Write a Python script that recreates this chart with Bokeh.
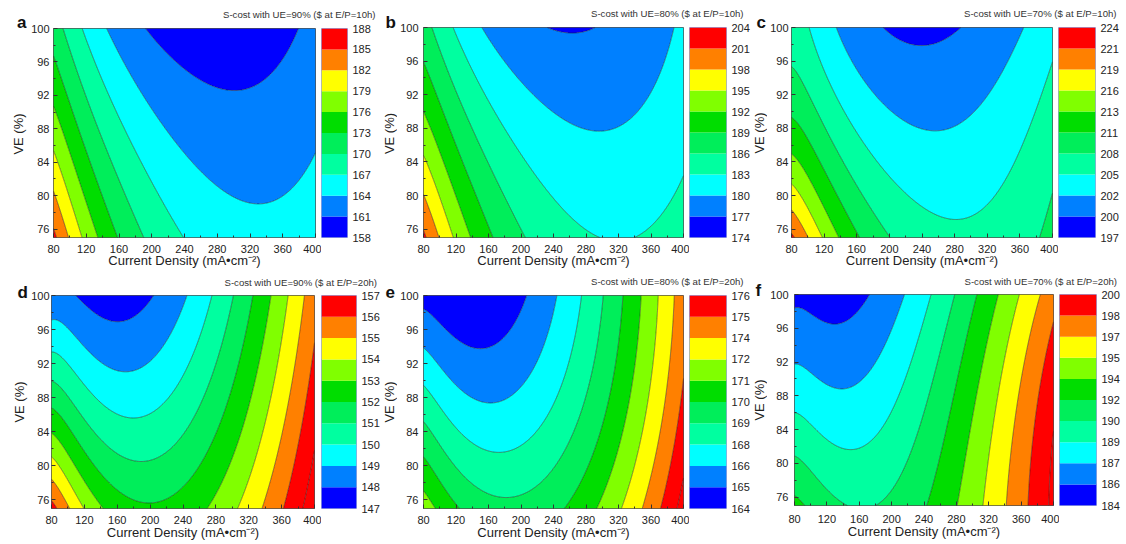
import math
import numpy as np
from bokeh.plotting import figure
from bokeh.models import Range1d, LinearAxis, FixedTicker
from bokeh.core.properties import value
from bokeh.layouts import row, column
from bokeh.embed import file_html
from bokeh.resources import INLINE

FONT = "Liberation Sans"

# Band colours of the cost scale, lowest band first
PALETTE = ["#0000FF", "#0080FF", "#00FFFF", "#00FFA0", "#00EE5A",
           "#00DD00", "#80FF00", "#FFFF00", "#FF8000", "#FF0000"]

# Axis ticks
CD_TICKS = [80, 120, 160, 200, 240, 280, 320, 360, 400]
CD_MINOR = [100, 140, 180, 220, 260, 300, 340, 380]
VE_TICKS = [76, 80, 84, 88, 92, 96, 100]
VE_MINOR = [78, 82, 86, 90, 94, 98]

PANEL_LETTERS = ["a", "b", "c", "d", "e", "f"]
UE_VALUES = ["90%", "80%", "70%", "90%", "80%", "70%"]
EP_VALUES = ["10h", "10h", "10h", "20h", "20h", "20h"]
X_TITLE = "Current Density (mA\u2022cm\u207b\u00b2)"
Y_TITLE = "VE (%)"

# Cost scale of each panel ($), and the labels printed on its colour bar
SCALE_LOW = [158, 174, 197, 147, 164, 184]
SCALE_HIGH = [188, 204, 224, 157, 176, 200]
SCALE_LABELS = [
    ["158", "161", "164", "167", "170", "173", "176", "179", "182", "185", "188"],
    ["174", "177", "180", "183", "186", "189", "192", "195", "198", "201", "204"],
    ["197", "200", "202", "205", "208", "211", "213", "216", "219", "221", "224"],
    ["147", "148", "149", "150", "151", "152", "153", "154", "155", "156", "157"],
    ["164", "165", "166", "168", "169", "170", "171", "172", "174", "175", "176"],
    ["184", "186", "187", "189", "190", "192", "194", "195", "197", "198", "200"],
]

# Points on the iso-cost lines: current density (mA cm-2), VE (%), S-cost ($)
CD_A = [196, 373, 291, 231, 349, 280, 302, 145, 316.6, 400, 227, 260, 114.6,
        235, 168, 91, 190.6, 137, 80, 158, 112, 80, 133.7, 80, 115.4, 80, 99,
        80, 82.8, 290, 316, 400, 80, 400]
VE_A = [100, 100, 92.0, 96, 96, 92.2, 92.2, 100, 78.9, 84.9, 87.5, 83.6, 100,
        75, 87.5, 100, 75, 87.5, 96.1, 75, 87.5, 90.9, 75, 85.3, 75, 80.8, 75,
        76.1, 75, 100, 75, 75, 100, 100]
COST_A = [161, 161, 161, 161, 161, 161, 161, 164, 164, 164, 164, 164, 167,
          167, 167, 170, 170, 170, 173, 173, 173, 176, 176, 179, 179, 182, 182,
          185, 185, 159.0, 165.0, 165.7, 171.8, 161.7]

CD_B = [233.5, 278, 256, 152.3, 387, 282, 268, 296, 192, 362, 246, 318, 116.5,
        306.6, 400, 213, 255.8, 89.3, 199, 140, 80, 164.5, 114, 80, 138, 80,
        117.8, 80, 99.5, 80, 83.2, 258, 400, 400, 80]
VE_B = [100, 100, 99.5, 100, 100, 86.6, 86.8, 86.8, 93.3, 93.3, 88, 88, 100,
        75.1, 83.1, 87.5, 79.6, 100, 75, 87.5, 95.9, 75, 87.5, 90.2, 75, 84.5,
        75, 80.2, 75, 75.8, 75, 100, 100, 75, 100]
COST_B = [177, 177, 177, 180, 180, 180, 180, 180, 180, 180, 180, 180, 183,
          183, 183, 183, 183, 186, 186, 186, 189, 189, 189, 192, 192, 195,
          195, 198, 198, 201, 201, 176.8, 180.5, 184.3, 187.3]

CD_C = [188.3, 281.6, 237, 133.5, 356.6, 259.3, 248, 270, 172, 330, 227, 296,
        103.1, 279.5, 400, 178, 216.7, 352, 80, 198.4, 400, 385, 136, 80, 166,
        80, 137.6, 80, 117.3, 80, 99, 80, 81.6, 237, 80, 400, 400]
VE_C = [100, 100, 97.6, 100, 100, 86.4, 86.6, 86.6, 93.3, 93.3, 87.8, 87.8,
        100, 77.4, 95.5, 87.4, 81.5, 87.4, 94.0, 75, 79.5, 75, 85, 89.3, 75,
        85.0, 75, 81.5, 75, 78.5, 75, 75.8, 75, 100, 100, 100, 75]
COST_C = [199.7, 199.7, 199.7, 202.4, 202.4, 202.4, 202.4, 202.4, 202.4, 202.4,
          202.4, 202.4, 205.1, 205.1, 205.1, 205.1, 205.1, 205.1, 207.8, 207.8,
          207.8, 207.8, 207.8, 210.5, 210.5, 213.2, 213.2, 215.9, 215.9, 218.6,
          218.6, 221.3, 221.3, 199.1, 206.8, 204.0, 208.6]

CD_D = [115.6, 200.5, 168.2, 80, 180.3, 240.2, 140, 227, 80, 178.3, 275.4, 125,
        257, 80, 202.6, 301.7, 285.5, 269.3, 140, 80, 202.6, 326, 296.5, 140,
        80, 147.2, 270, 347, 321.9, 80, 118.8, 309.8, 367.2, 344.2, 80, 101.4,
        338, 387.4, 365.6, 80, 83.2, 362.4, 400, 394.7, 384.6, 400,
        165, 80, 80, 400, 400]
VE_D = [100, 100, 97.66, 95.5, 91.6, 100, 92.8, 95.1, 92.6, 86.07, 100, 88.2,
        93.2, 89.66, 80.9, 100, 91.2, 88.9, 83.4, 87.5, 76.1, 100, 88, 78.5,
        84.0, 75, 75, 100, 88.9, 81.5, 75, 75, 100, 88.9, 79.1, 75,
        75, 100, 88.9, 76.0, 75, 75, 94.3, 88.9, 75, 79.5,
        100, 100, 75, 75, 100]
COST_D = [148, 148, 148, 149, 149, 149, 149, 149, 150, 150, 150, 150,
          150, 151, 151, 151, 151, 151, 151, 152, 152, 152, 152, 152,
          153, 153, 153, 153, 153, 154, 154, 154, 154, 154, 155, 155,
          155, 155, 155, 156, 156, 156, 156, 156, 157, 157,
          147.3, 148.6, 156.3, 157.8, 155.6]

CD_E = [80, 148.4, 115, 185, 201, 80, 159.8, 246.1, 221.7, 111.8, 80, 170.8,
        274.6, 245, 132, 80, 185, 301, 280, 132, 80, 120, 252.2, 325.5, 308,
        80, 95.5, 295, 348, 334, 323.5, 369, 358, 348, 388.6, 379, 372.3, 400,
        397, 393.5, 400, 145, 80, 80, 400, 400]
VE_E = [98.4, 93.5, 95.0, 96.0, 100, 93.5, 87.3, 100, 93.1, 90, 89.2, 81.6,
        100, 88, 83.8, 85.1, 76.3, 100, 88, 79.1, 81.4, 75, 75, 100, 88,
        77.9, 75, 75, 100, 88, 75, 100, 88, 75, 100, 88, 75, 91.6,
        88, 75, 78.7, 100, 100, 75, 75, 100]
COST_E = [165.2, 165.2, 165.2, 165.2, 165.2, 166.4, 166.4, 166.4, 166.4, 166.4,
          167.6, 167.6, 167.6, 167.6, 167.6, 168.8, 168.8, 168.8, 168.8, 168.8,
          170.0, 170.0, 170.0, 170.0, 170.0, 171.2, 171.2, 171.2, 171.2, 171.2,
          172.4, 172.4, 172.4, 173.6, 173.6, 173.6, 174.8, 174.8, 174.8,
          176.0, 176.0, 164.1, 164.9, 171.6, 176.6, 174.3]

CD_F = [80, 120.9, 167.9, 150, 80, 133.1, 214.9, 196.5, 80, 147.4, 249.6, 221,
        80, 163.8, 279, 243.5, 80, 90.2, 243.5, 306.8, 270, 282.3, 333.4, 298.6,
        315, 357.9, 329.3, 343.6, 379.5, 353.8, 370.2, 400, 380.4, 394.7, 400,
        121, 80, 80, 400, 400]
VE_F = [98.1, 96.4, 100, 98.3, 91.6, 88.6, 100, 93, 86.1, 81.5, 100, 91,
        81.05, 75.3, 100, 87.05, 76.6, 75, 75, 100, 87.05, 75, 100, 87.05,
        75, 100, 87.05, 75, 100, 87.05, 75, 95.7, 87.05, 75, 79.2,
        100, 100, 75, 75, 100]
COST_F = [185.6, 185.6, 185.6, 185.6, 187.2, 187.2, 187.2, 187.2, 188.8, 188.8,
          188.8, 188.8, 190.4, 190.4, 190.4, 190.4, 192.0, 192.0, 192.0, 192.0,
          192.0, 193.6, 193.6, 193.6, 195.2, 195.2, 195.2, 196.8, 196.8, 196.8,
          198.4, 198.4, 198.4, 200.0, 200.0, 184.9, 185.3, 192.3, 200.8, 197.8]

READINGS = [(CD_A, VE_A, COST_A), (CD_B, VE_B, COST_B), (CD_C, VE_C, COST_C),
            (CD_D, VE_D, COST_D), (CD_E, VE_E, COST_E), (CD_F, VE_F, COST_F)]

# Pixel geometry of each panel:
# width, height, plot left, plot right, plot top, plot bottom, bar left, bar right
GEOMETRY = [
    (380, 270, 53, 315, 28, 239, 321, 347),
    (372, 270, 41, 303, 27, 239, 309, 346),
    (374, 270, 37, 300, 27, 238, 306, 343),
    (382, 274, 51, 314, 25, 238, 321, 358),
    (370, 274, 39, 301, 25, 238, 307, 344),
    (374, 274, 40, 301, 24, 235, 307, 344),
]
# Text layout: side strip width, letter x, letter baseline, VE title centre x,
# header height, cost title right end, cost title anchor,
# VE tick standoff, x tick standoff, x title standoff
TEXT_POS = [
    (27, 16.5, 21.5, 18, 21, 375, 13.5, 4, 7, -3),
    (17, 5, 21.7, 8.5, 21, 363, 13, 5, 7, -3),
    (15, 4, 21.7, 7.3, 21, 364, 13, 3, 7, -3),
    (28, 17, 21.7, 19, 19, 376.5, 11.5, 2, 7, -2),
    (15, 3, 21.7, 7.3, 19, 361, 11, 5, 7, -2),
    (15, 3, 20, 7.3, 19, 364.5, 10.5, 6, 9, -2),
]


def basis(x, y):
    return np.stack([np.ones_like(x), 1 / x, 1 / x ** 2, x, x ** 2, x ** 3,
                     y, y ** 2, y / x, y * x, y * x ** 2, y ** 2 / x, y ** 2 * x],
                    axis=-1)


def fit_surface(cd, ve, cost):
    """Smooth cost surface through the iso-cost points (ridge least squares)."""
    x = np.asarray(cd, float) / 100.0
    y = (100.0 - np.asarray(ve, float)) / 25.0
    a = basis(x, y)
    scale = np.abs(a).max(axis=0)
    a = a / scale
    coef = np.linalg.solve(a.T @ a + 1e-4 * np.eye(a.shape[1]),
                           a.T @ np.asarray(cost, float))

    def surface(cd_grid, ve_grid):
        return (basis(cd_grid / 100.0, (100.0 - ve_grid) / 25.0) / scale) @ coef
    return surface


def style_axis(ax, standoff):
    ax.axis_line_color = None
    ax.major_tick_in = 4
    ax.major_tick_out = 0
    ax.minor_tick_in = 2
    ax.minor_tick_out = 0
    ax.major_tick_line_color = "#333333"
    ax.minor_tick_line_color = "#333333"
    ax.major_label_text_font = FONT
    ax.major_label_text_font_size = "11px"
    ax.major_label_text_color = "#222222"
    ax.major_label_standoff = standoff
    ax.axis_label_text_font = FONT
    ax.axis_label_text_font_size = "13px"
    ax.axis_label_text_font_style = "normal"
    ax.axis_label_text_color = "#222222"


def bare_figure(**kw):
    p = figure(output_backend="svg", toolbar_location=None, title=None,
               x_axis_type=None, y_axis_type=None, **kw)
    p.outline_line_color = None
    p.background_fill_color = "white"
    p.border_fill_color = "white"
    return p


def text_canvas(w, h):
    """A figure whose frame is its whole canvas, in pixel units from bottom-left."""
    return bare_figure(width=w, height=h, x_range=Range1d(0, w),
                       y_range=Range1d(0, h), min_border=0)


def make_panel(i):
    cd, ve, cost = READINGS[i]
    w, h, left, right, top, bottom, bar_l, bar_r = GEOMETRY[i]
    (strip_w, let_x, let_y, vel_x, head_h, tit_x, tit_y,
     ve_std, x_std, xl_std) = TEXT_POS[i]
    lo, hi = SCALE_LOW[i], SCALE_HIGH[i]
    levels = [float(v) for v in np.linspace(lo, hi, 11)]
    body_h = h - head_h

    # left strip: panel letter and VE axis title
    strip = text_canvas(strip_w, h)
    strip.text(x=[let_x], y=[h - let_y], text=[PANEL_LETTERS[i]],
               text_font=value(FONT), text_font_style="bold",
               text_font_size="17px", text_color="#111111",
               text_align="left", text_baseline="alphabetic")
    strip.text(x=[vel_x], y=[h - (top + bottom) / 2], text=[Y_TITLE],
               angle=math.pi / 2, text_font=value(FONT), text_font_size="13px",
               text_color="#222222", text_align="center", text_baseline="middle")

    # header: cost title
    head = text_canvas(w - strip_w, head_h)
    head.text(x=[tit_x - strip_w], y=[head_h - tit_y],
              text=[f"S-cost with UE={UE_VALUES[i]} ($ at E/P={EP_VALUES[i]})"],
              text_font=value(FONT), text_font_size="9.6px",
              text_color="#333333", text_align="right",
              text_baseline="alphabetic")

    # contour map
    p = bare_figure(width=bar_l - strip_w, height=body_h,
                    x_range=Range1d(80, 400), y_range=Range1d(75, 100),
                    min_border_left=left - strip_w, min_border_right=bar_l - right,
                    min_border_top=top - head_h, min_border_bottom=h - bottom)
    p.outline_line_color = "#505050"
    p.outline_line_width = 1

    surface = fit_surface(cd, ve, cost)
    gx = np.linspace(80, 400, 321)
    gy = np.linspace(75, 100, 251)
    gz = surface(*np.meshgrid(gx, gy))
    step = levels[1] - levels[0]
    fill_levels = ([min(gz.min(), lo) - step] + levels[1:] +
                   [max(gz.max(), hi) + step])
    p.contour(gx, gy, gz, fill_levels, fill_color=PALETTE + [PALETTE[-1]],
              line_color="#1e1e1e", line_width=0.6, line_alpha=0.85)

    xa = LinearAxis(ticker=FixedTicker(ticks=CD_TICKS, minor_ticks=CD_MINOR),
                    axis_label=X_TITLE)
    style_axis(xa, x_std)
    xa.axis_label_standoff = xl_std
    p.add_layout(xa, "below")
    ya = LinearAxis(ticker=FixedTicker(ticks=VE_TICKS, minor_ticks=VE_MINOR))
    style_axis(ya, ve_std)
    p.add_layout(ya, "left")

    # colour bar
    cb = bare_figure(width=w - bar_l, height=body_h,
                     x_range=Range1d(0, 1), y_range=Range1d(lo, hi),
                     min_border_left=0, min_border_right=w - bar_r,
                     min_border_top=top - head_h, min_border_bottom=h - bottom)
    cb.outline_line_color = "#9aa4dd"
    cb.quad(left=0, right=1, bottom=levels[:-1], top=levels[1:],
            fill_color=PALETTE, line_color=None)
    ra = LinearAxis(ticker=FixedTicker(ticks=levels),
                    major_label_overrides=dict(zip(levels, SCALE_LABELS[i])))
    style_axis(ra, 5)
    ra.major_tick_line_color = None
    ra.minor_tick_line_color = None
    cb.add_layout(ra, "right")

    return row(strip, column(head, row(p, cb)))


panels = [make_panel(i) for i in range(6)]
layout = column(row(*panels[:3]), row(*panels[3:]))
open("out.html", "w").write(file_html(layout, INLINE))
